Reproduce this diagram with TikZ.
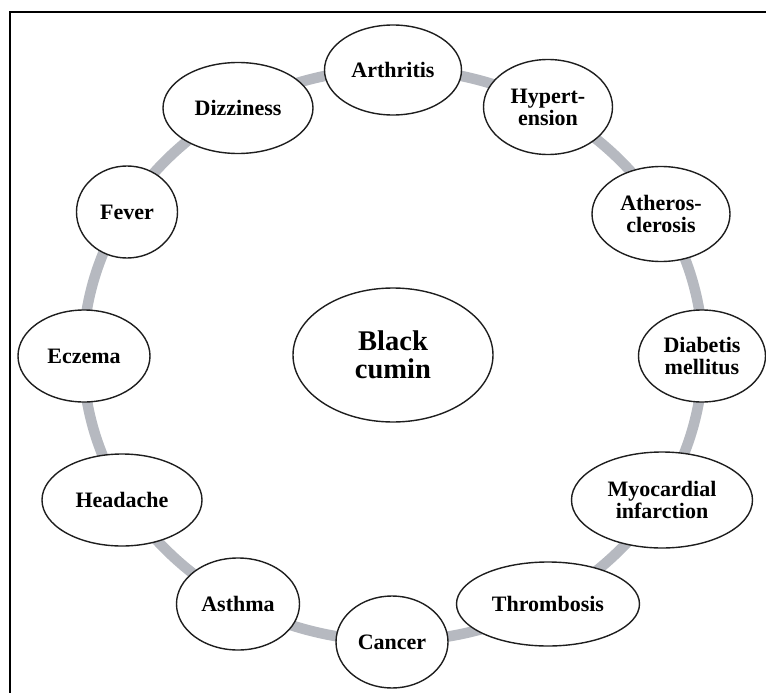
\documentclass[tikz,border=0pt]{standalone}
\usepackage{fontspec}
\setmainfont{Liberation Serif}
\usetikzlibrary{shapes.geometric}
\definecolor{ringgray}{HTML}{B6B9C0}
\definecolor{edgeblack}{HTML}{1E1E1E}
\tikzset{
  dnode/.style={ellipse, draw=edgeblack, line width=1.4pt, fill=white, inner sep=0pt,
    align=center, font=\fontsize{22}{22}\selectfont\bfseries},
  bignode/.style={dnode, font=\fontsize{28.5}{28.5}\selectfont\bfseries},
  ring/.style={draw=ringgray, line width=10.5pt},
  frameline/.style={draw=black, line width=1.8pt}
}
\begin{document}
\begin{tikzpicture}[x=1pt,y=-1pt]
\useasboundingbox (0,0) rectangle (766,693);
\draw[frameline] (10,693) -- (10,12) -- (766,12);
\node[bignode, minimum width=200, minimum height=134] (cumin) at (393,355) {Black\\cumin};
\draw[ring] (cumin.center) ellipse [x radius=310pt, y radius=286pt];
\node[dnode, minimum width=137, minimum height=90] (arthritis) at (393,70) {Arthritis};
\node[dnode, minimum width=129, minimum height=95] (hyper) at (548,107) {Hypert-\\ension};
\node[dnode, minimum width=138, minimum height=95] (athero) at (661,214) {Atheros-\\clerosis};
\node[dnode, minimum width=127, minimum height=92] (diabetis) at (702,356) {Diabetis\\mellitus};
\node[dnode, minimum width=181, minimum height=96] (myo) at (662,500) {Myocardial\\infarction};
\node[dnode, minimum width=183, minimum height=84] (thrombosis) at (548,604) {Thrombosis};
\node[dnode, minimum width=112, minimum height=92] (cancer) at (392,642) {Cancer};
\node[dnode, minimum width=123, minimum height=92] (asthma) at (238,604) {Asthma};
\node[dnode, minimum width=160, minimum height=92] (headache) at (122,500) {Headache};
\node[dnode, minimum width=132, minimum height=92] (eczema) at (84,356) {Eczema};
\node[dnode, minimum width=101, minimum height=92] (fever) at (127,212) {Fever};
\node[dnode, minimum width=150, minimum height=91] (dizziness) at (238,108) {Dizziness};
\end{tikzpicture}
\end{document}
